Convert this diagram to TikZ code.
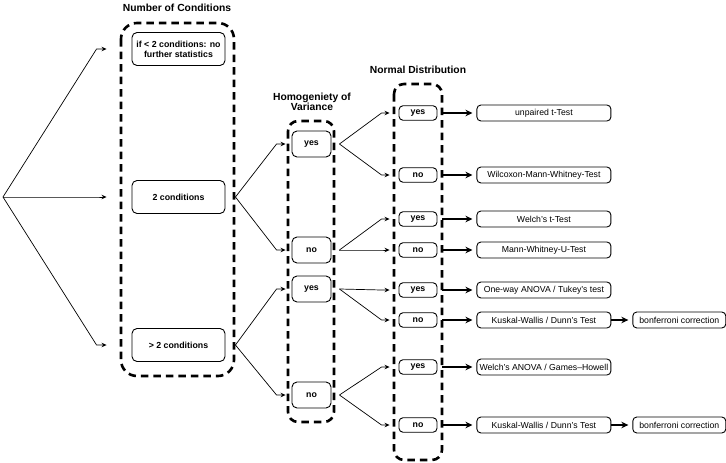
\documentclass[tikz,border=0pt]{standalone}
\usepackage{fontspec}
\setmainfont{Liberation Sans}
\usetikzlibrary{arrows.meta,positioning}

\begin{document}
\begin{tikzpicture}[x=1pt,y=-1pt,font=\fontsize{8.7}{10}\selectfont,
      c/.style={draw,line width=.9pt,rounded corners=5pt,minimum width=93pt,minimum height=33pt,inner sep=1pt,align=center,font=\fontsize{8.8}{10}\selectfont\bfseries},
      h/.style={draw,line width=.9pt,rounded corners=5pt,minimum width=39pt,minimum height=26pt,inner sep=1pt,font=\fontsize{8.8}{10}\selectfont\bfseries},
      d/.style={draw,line width=.9pt,rounded corners=4pt,minimum width=38pt,minimum height=14.5pt,inner sep=1pt,font=\fontsize{8.8}{10}\selectfont\bfseries},
      r/.style={draw,line width=.9pt,rounded corners=4pt,minimum width=134pt,minimum height=16pt,inner sep=1pt},
      b/.style={draw,line width=.9pt,rounded corners=4pt,minimum width=93pt,minimum height=16pt,inner sep=1pt},
      frame/.style={line width=2.6pt,dash pattern=on 7.5pt off 5pt},
      ttl/.style={align=center,font=\fontsize{10.3}{10.5}\selectfont\bfseries},
      arr/.style={-{Stealth[length=5pt,width=4.5pt]},line width=.7pt},
      thk/.style={-{Stealth[length=7pt,width=6.5pt]},line width=1.8pt,shorten >=4pt}]
      \useasboundingbox (0,0) rectangle (726,463);
      % number of conditions
      \node[ttl] (t1) at (177,7.5) {Number of Conditions};
      \draw[frame,rounded corners=16pt] (121,23) rectangle (234,376);
      \node[c] (c1) at (178.5,49) {if < 2 conditions: no\\further statistics};
      \node[c] (c2) at (178.5,197) {2 conditions};
      \node[c] (c3) at (178.5,345) {> 2 conditions};
      % homogeneity of variance
      \node[ttl] (t2) at (312,102) {Homogeniety of\\Variance};
      \draw[frame,rounded corners=10pt] (288,121) rectangle (334,422);
      \node[h] (hy1) at (311.5,144) {yes};
      \node[h] (hn1) at (311.5,250) {no};
      \node[h] (hy2) at (311.5,289) {yes};
      \node[h] (hn2) at (311.5,395) {no};
      % normal distribution
      \node[ttl] (t3) at (418,70) {Normal Distribution};
      \draw[frame,rounded corners=10pt] (394,84) rectangle (442,460);
      \node[d] (dy1) at (418,113) {yes};
      \node[d] (dn1) at (418,175) {no};
      \node[d] (dy2) at (418,219) {yes};
      \node[d] (dn2) at (418,250) {no};
      \node[d] (dy3) at (418,290) {yes};
      \node[d] (dn3) at (418,320) {no};
      \node[d] (dy4) at (418,367) {yes};
      \node[d] (dn4) at (418,425) {no};
      % tests
      \node[r,right=39pt of dy1] (r1) {unpaired t-Test};
      \node[r,right=39pt of dn1] (r2) {Wilcoxon-Mann-Whitney-Test};
      \node[r,right=39pt of dy2] (r3) {Welch's t-Test};
      \node[r,right=39pt of dn2] (r4) {Mann-Whitney-U-Test};
      \node[r,right=39pt of dy3] (r5) {One-way ANOVA / Tukey's test};
      \node[r,right=39pt of dn3] (r6) {Kuskal-Wallis / Dunn's Test};
      \node[r,right=39pt of dy4] (r7) {Welch's ANOVA / Games--Howell};
      \node[r,right=39pt of dn4] (r8) {Kuskal-Wallis / Dunn's Test};
      \node[b,right=21pt of r6] (b1) {bonferroni correction};
      \node[b,right=21pt of r8] (b2) {bonferroni correction};
      % connectors
      \coordinate (root) at (3,197);
      \foreach \n in {c1,c2,c3}
        \draw[arr] (root) -- ([xshift=-35pt]\n.west) -- ([xshift=-25pt]\n.west);
      \foreach \s/\a/\b in {c2/hy1/hn1,c3/hy2/hn2}
        \foreach \n in {\a,\b}
          \draw[arr] ([xshift=10pt]\s.east) -- ([xshift=-15pt]\n.west) -- ([xshift=-6pt]\n.west);
      \foreach \s/\a/\b in {hy1/dy1/dn1,hn1/dy2/dn2,hy2/dy3/dn3,hn2/dy4/dn4}
        \foreach \n in {\a,\b}
          \draw[arr] ([xshift=8pt]\s.east) -- ([xshift=-17pt]\n.west) -- ([xshift=-9pt]\n.west);
      \foreach \s/\n in {dy1/r1,dn1/r2,dy2/r3,dn2/r4,dy3/r5,dn3/r6,dy4/r7,dn4/r8}
        \draw[thk] ([xshift=5pt]\s.east) -- (\n.west);
      \draw[thk] (r6.east) -- (b1.west);
      \draw[thk] (r8.east) -- (b2.west);
    \end{tikzpicture}
\end{document}
